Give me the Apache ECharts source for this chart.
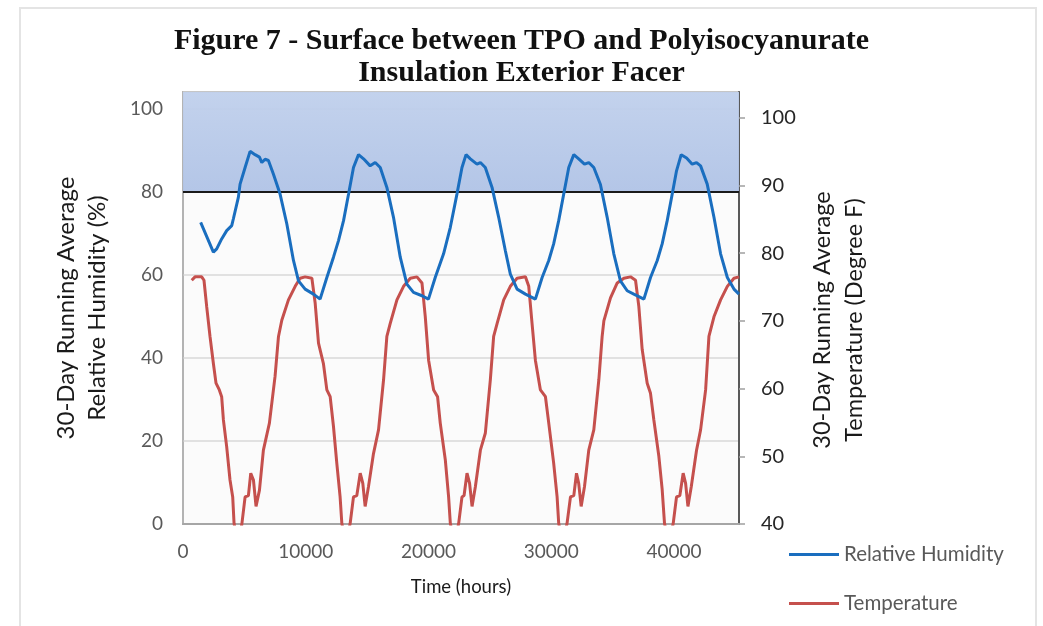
<!DOCTYPE html>
<html><head><meta charset="utf-8">
<script src="https://cdn.jsdelivr.net/npm/echarts@6/dist/echarts.min.js"></script>
<style>html,body{margin:0;padding:0;background:#fff}#c{width:1043px;height:626px}</style>
</head><body><div id="c"></div>
<script>
// Relative humidity (left axis, %)
const rhHours = [1440,2475,2745,3150,3560,3970,4100,4510,4650,5060,5465,5870,6230,6420,6690,6960,7370,7910,8460,9000,9410,9950,10630,11170,
  11720,12260,12670,13080,13490,13890,14300,14710,15250,15660,16070,16610,17150,17700,18240,18780,19470,20000,
  20550,21230,21780,22320,22730,23060,23410,23950,24230,24630,25180,25720,26260,26670,27220,27900,28710,
  29260,29800,30200,30610,31020,31430,31840,32240,32710,33060,33470,34010,34560,35100,35640,36190,36730,37550,
  38090,38640,39040,39450,39860,40210,40590,41030,41490,41840,42170,42710,43260,43800,44350,44890,45300];
const rhValues = [72.7,65.5,66.3,68.7,70.7,71.9,73.5,78.7,81.9,85.9,89.8,89.0,88.4,87.1,87.9,87.6,84.3,79.5,72.3,63.5,58.6,56.6,55.4,54.2,
  59.4,64.3,68.3,73.1,79.5,85.9,89.0,88.0,86.3,87.1,85.9,81.1,73.9,64.3,57.8,55.8,55.0,54.2,
  59.4,65.1,71.5,79.5,85.9,89.0,88.0,86.7,87.1,85.9,81.1,73.9,65.9,60.2,56.6,55.4,54.2,
  59.4,63.5,67.5,73.1,79.5,85.9,89.0,88.0,86.7,87.1,85.9,81.8,73.9,65.1,58.6,56.2,55.4,54.2,
  59.4,63.5,67.5,73.1,79.5,85.1,89.0,88.2,86.7,87.1,86.3,81.9,73.9,65.1,59.4,56.6,55.4];

// Temperature (right axis, degree F)
const tempHours = [710,980,1525,1710,1930,2200,2475,2690,2960,3150,3290,3560,3830,4050,4160,4450,4790,5060,5330,5520,5740,5950,6230,6550,7040,7500,7780,8050,8590,9140,9540,9950,10500,10770,11040,11440,
  11720,11990,12260,12530,12800,12940,13280,13620,13890,14160,14440,14650,14840,15110,15520,15930,16340,16610,16880,17430,17970,18520,19060,19470,19740,20010,20420,20740,20960,21370,21640,21780,22120,22460,
  22730,22900,23140,23350,23550,23820,24230,24630,25040,25310,25590,26130,26670,27220,27900,28170,28440,28710,29120,29530,29800,30200,30480,30610,30950,31290,
  31570,31840,32060,32240,32440,32710,33060,33470,33880,34150,34290,34830,35380,35920,36460,36870,37140,37410,37820,38090,38360,38770,39040,39230,39590,39940,
  40210,40480,40750,40950,41140,41410,41840,42170,42580,42850,43260,43800,44350,44890,45300];
const tempValues = [76.0,76.5,76.5,76.0,72.1,67.7,63.7,60.8,59.8,58.8,55.4,51.4,46.5,44.0,40.1,37.0,39.9,44.0,44.2,47.5,46.5,42.6,45.0,50.9,54.9,61.8,67.7,70.1,73.1,75.1,76.3,76.5,76.3,72.6,66.7,63.7,
  59.8,58.8,54.4,49.0,44.0,40.1,37.0,40.1,44.0,44.2,47.5,46.0,42.6,45.5,50.4,53.9,61.3,67.7,69.6,73.1,75.1,76.3,76.5,75.6,70.6,64.2,59.8,58.8,54.9,49.5,44.0,40.1,37.0,40.1,
  44.0,44.2,47.5,46.0,42.6,45.5,50.9,53.4,61.3,67.7,69.6,73.1,75.1,76.3,76.5,75.1,69.6,64.2,59.8,58.8,54.9,49.0,44.0,40.1,37.0,40.1,
  44.0,44.2,47.5,46.0,42.6,45.5,50.9,53.9,61.3,67.7,70.0,73.4,75.6,76.3,76.5,76.0,72.1,65.8,60.8,59.3,55.4,50.0,45.1,40.1,37.0,40.1,
  44.0,44.2,47.5,46.0,42.6,45.5,50.9,53.9,59.8,67.7,70.6,73.1,75.1,76.3,76.5];

const titleText = 'Figure 7 - Surface between TPO and Polyisocyanurate\nInsulation Exterior Facer';
const seriesNames = ['Relative Humidity', 'Temperature'];
const leftAxisName = '30-Day Running Average\nRelative Humidity (%)';
const rightAxisName = '30-Day Running Average\nTemperature (Degree F)';
const xAxisName = 'Time (hours)';
const thresholdRH = 80;

const zip = (a, b) => a.map((v, i) => [v, b[i]]);
const FONT = 'Lato';
const chart = echarts.init(document.getElementById('c'), null, {renderer: 'canvas'});
const LMAX = 104.1, RMAX = 103.8;
chart.setOption({
  animation: false,
  backgroundColor: '#ffffff',
  textStyle: {fontFamily: FONT},
  graphic: [{type: 'rect', shape: {x: 20, y: 8, width: 1016, height: 700}, style: {fill: 'none', stroke: '#e4e4e4', lineWidth: 2}, silent: true}],
  title: {
    text: titleText, left: 'center', top: 20,
    textStyle: {fontFamily: 'Liberation Serif', fontWeight: 'bold', fontSize: 30, lineHeight: 32, color: '#111'}
  },
  legend: {
    orient: 'vertical', left: 789, top: 544, padding: 0, itemWidth: 50, itemHeight: 3, icon: 'rect', itemGap: 28,
    textStyle: {color: '#595959', fontSize: 20.5, fontFamily: FONT},
    data: seriesNames
  },
  grid: {left: 183, right: 304, top: 92, bottom: 102, show: true, borderColor: '#6e6e6e', borderWidth: 1.5, backgroundColor: '#fbfbfb'},
  xAxis: {
    type: 'value', min: 0, max: 45300, interval: 10000,
    axisLine: {show: true, lineStyle: {color: '#a6a6a6', width: 2}},
    axisTick: {show: false}, splitLine: {show: false},
    axisLabel: {color: '#595959', fontSize: 19, margin: 18, showMaxLabel: false, formatter: v => String(v)},
    name: xAxisName, nameLocation: 'middle', nameGap: 54,
    nameTextStyle: {color: '#1a1a1a', fontSize: 18.5}
  },
  yAxis: [{
    type: 'value', min: 0, max: LMAX, interval: 20, position: 'left',
    axisLine: {show: true, lineStyle: {color: '#bfbfbf', width: 1.5}},
    axisTick: {show: false},
    splitLine: {show: true, lineStyle: {color: '#d9d9d9', width: 1.5}},
    axisLabel: {color: '#595959', fontSize: 19, margin: 20, showMaxLabel: false},
    name: leftAxisName, nameLocation: 'middle', nameRotate: 90, nameGap: 70,
    nameTextStyle: {color: '#1a1a1a', fontSize: 24, lineHeight: 31}
  }, {
    type: 'value', min: 40, max: RMAX, interval: 10, position: 'right',
    axisLine: {show: true, lineStyle: {color: '#595959', width: 2}},
    axisTick: {show: true, length: 6, lineStyle: {color: '#a0a0a0', width: 1.5}},
    splitLine: {show: false},
    axisLabel: {color: '#262626', fontSize: 20, margin: 22, showMaxLabel: false},
    name: rightAxisName, nameLocation: 'middle', nameRotate: 90, nameGap: 66,
    nameTextStyle: {color: '#1a1a1a', fontSize: 23.5, lineHeight: 32, padding: [0, 24, 0, 0]}
  }],
  series: [{
    name: 'bg', type: 'line', data: [], yAxisIndex: 0, silent: true, z: 1,
    markArea: {
      silent: true, z: 1,
      data: [[{yAxis: thresholdRH, itemStyle: {color: new echarts.graphic.LinearGradient(0, 0, 0, 1, [
        {offset: 0, color: 'rgba(192,208,236,0.95)'}, {offset: 1, color: 'rgba(176,195,230,0.95)'}])}}, {yAxis: LMAX}]]
    },
    markLine: {
      silent: true, symbol: 'none', z: 2, label: {show: false},
      lineStyle: {color: '#1a1a1a', width: 2, type: 'solid'},
      data: [{yAxis: thresholdRH}]
    }
  }, {
    name: seriesNames[0], type: 'line', yAxisIndex: 0, z: 4, showSymbol: false,
    data: zip(rhHours, rhValues),
    color: '#1a6ebf', lineStyle: {color: '#1a6ebf', width: 3}
  }, {
    name: seriesNames[1], type: 'line', yAxisIndex: 1, z: 3, showSymbol: false,
    data: zip(tempHours, tempValues),
    color: '#c5504d', lineStyle: {color: '#c5504d', width: 3}
  }]
});
</script></body></html>
